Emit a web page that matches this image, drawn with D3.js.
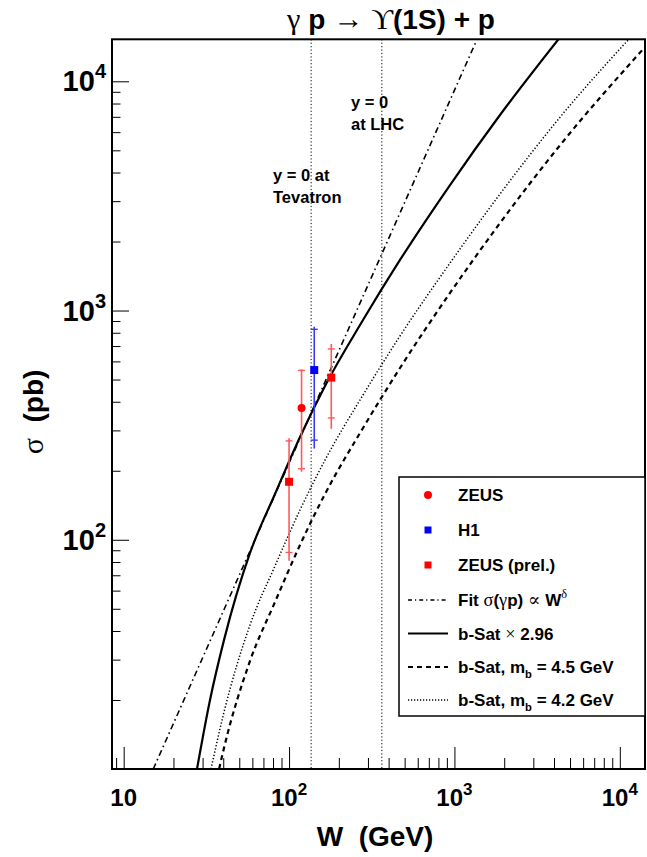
<!DOCTYPE html>
<html><head><meta charset="utf-8">
<script src="https://cdn.jsdelivr.net/npm/d3@7"></script>
<style>
html,body{margin:0;padding:0;background:#fff;}
svg{display:block;}
text{font-family:"Liberation Sans",Arial,Helvetica,sans-serif;font-weight:bold;fill:#000;white-space:pre;}
</style></head><body>
<svg id="chart" width="647" height="857"></svg>
<script>
// Photoproduction energy W (GeV) and cross sections sigma (pb)
const zeusW = [119];
const zeusSigma = [376];
const zeusTotErr = [178];
const zeusStatErr = [172];

const h1W = [142];
const h1Sigma = [550];
const h1TotErr = [300];
const h1StatErr = [278];

const zeusPrelW = [100, 180];
const zeusPrelSigma = [179, 510];
const zeusPrelTotErr = [98, 205];
const zeusPrelStatErr = [91, 170];

// Power-law fit, sigma ~ W^delta (end points on the frame)
const fitW = [15.1, 1370];
const fitSigma = [10, 15250];

// b-Sat dipole model predictions
const bsatScaledW = [27.76, 33.27, 40.42, 58.07, 82.23, 116.5, 165.0, 280.0, 468.6, 940.2, 1886, 4410];
const bsatScaledSigma = [10, 20.0, 36.5, 87.6, 158.4, 280.8, 468.7, 909, 1662, 3529, 7129, 15760];

const bsat45W = [37.76, 40.42, 58.07, 82.23, 116.5, 165.0, 280.0, 468.6, 940.2, 1886, 4410, 14200];
const bsat45Sigma = [10, 12.35, 29.6, 53.5, 94.9, 158.4, 307.3, 561.5, 1193, 2409, 5326, 14110];

const bsat42W = [33.73, 40.42, 58.07, 82.23, 116.5, 165.0, 280.0, 468.6, 940.2, 1886, 4410, 11370];
const bsat42Sigma = [10, 17.7, 42.5, 76.9, 134.9, 222.8, 428.1, 774.2, 1612, 3224, 7058, 15300];

// y = 0 positions: W = sqrt(M_Upsilon * sqrt(s))
const refLinesW = [136, 364];

// Axes
const xDomain = [8.5, 14200];
const yDomain = [10, 15250];
const xMajor = [10, 100, 1000, 10000];
const xMajorExp = ["", "2", "3", "4"];
const xMinor = [9, 20, 30, 40, 50, 60, 70, 80, 90, 200, 300, 400, 500, 600, 700, 800, 900,
                2000, 3000, 4000, 5000, 6000, 7000, 8000, 9000];
const yMajor = [100, 1000, 10000];
const yMajorExp = ["2", "3", "4"];
const yMinor = [20, 30, 40, 50, 60, 70, 80, 90, 200, 300, 400, 500, 600, 700, 800, 900,
                2000, 3000, 4000, 5000, 6000, 7000, 8000, 9000];

const titleText = "γ p → ϒ(1S) + p";
const xTitle = "W  (GeV)";
const yTitle = "σ  (pb)";
const legendLabels = ["ZEUS", "H1", "ZEUS (prel.)", "Fit σ(γp) ∝ W^δ", "b-Sat × 2.96",
                      "b-Sat, m_b = 4.5 GeV", "b-Sat, m_b = 4.2 GeV"];

const svg = d3.select("#chart");
const x = d3.scaleLog().domain(xDomain).range([112, 645]);
const y = d3.scaleLog().domain(yDomain).range([769, 39.3]);
const [X0, X1] = x.range();
const [Y0, Y1] = y.range();

// Rich text: Greek/math glyphs in a serif face, ^c superscript, _c subscript
const serifChars = "σγδ∝×→ϒ";
function rich(sel, str) {
  const runs = [];
  for (let i = 0; i < str.length; i++) {
    let ch = str[i], pos = "n";
    if ((ch === "^" || ch === "_") && i + 1 < str.length) {
      pos = ch === "^" ? "sup" : "sub";
      ch = str[++i];
    }
    const serif = serifChars.includes(ch);
    const last = runs[runs.length - 1];
    if (last && last.serif === serif && last.pos === pos) last.t += ch;
    else runs.push({ t: ch, serif, pos });
  }
  const fs = parseFloat(sel.attr("font-size"));
  let off = 0;
  runs.forEach(r => {
    const ts = sel.append("tspan").text(r.t);
    let target = 0;
    if (r.pos === "sup") { target = -0.45 * fs; ts.attr("font-size", fs * 0.66); }
    if (r.pos === "sub") { target = 0.3 * fs; ts.attr("font-size", fs * 0.66); }
    if (target !== off) { ts.attr("dy", target - off); off = target; }
    if (r.serif) ts.attr("font-family", "'Liberation Serif','DejaVu Serif',serif").attr("font-weight", "normal")
                   .attr("font-size", (r.pos === "n" ? fs * 1.08 : fs * 0.72));
  });
  return sel;
}

svg.append("defs").append("clipPath").attr("id", "plotClip").append("rect")
  .attr("x", X0).attr("y", Y1).attr("width", X1 - X0).attr("height", Y0 - Y1);

// Tick marks
const gx = svg.append("g").attr("transform", `translate(0,${Y0})`);
gx.call(d3.axisBottom(x).tickValues(xMajor).tickSize(-22).tickSizeOuter(0).tickFormat(""));
gx.append("g").call(d3.axisBottom(x).tickValues(xMinor).tickSize(-11).tickSizeOuter(0).tickFormat(""));
const gy = svg.append("g").attr("transform", `translate(${X0},0)`);
gy.call(d3.axisLeft(y).tickValues(yMajor).tickSize(-17).tickSizeOuter(0).tickFormat(""));
gy.append("g").call(d3.axisLeft(y).tickValues(yMinor).tickSize(-8.5).tickSizeOuter(0).tickFormat(""));
svg.selectAll(".domain").remove();
svg.selectAll(".tick line").attr("stroke", "#000").attr("stroke-width", 1);

// Tick labels
xMajor.forEach((v, i) => {
  const t = svg.append("text").attr("x", x(v)).attr("y", 806).attr("text-anchor", "middle").attr("font-size", 24);
  t.append("tspan").text("10");
  if (xMajorExp[i]) t.append("tspan").attr("dy", -11).attr("font-size", 17).text(xMajorExp[i]);
});
yMajor.forEach((v, i) => {
  const t = svg.append("text").attr("x", 106).attr("y", y(v) + 10).attr("text-anchor", "end").attr("font-size", 29);
  t.append("tspan").text("10");
  t.append("tspan").attr("dy", -13).attr("font-size", 20).text(yMajorExp[i]);
});

// Axis titles and plot title
rich(svg.append("text").attr("x", 375).attr("y", 846).attr("text-anchor", "middle").attr("font-size", 28), xTitle);
rich(svg.append("text").attr("transform", "translate(43,412) rotate(-90)").attr("text-anchor", "middle").attr("font-size", 28), yTitle);
rich(svg.append("text").attr("x", 391).attr("y", 29).attr("text-anchor", "middle").attr("font-size", 28), titleText);

const plot = svg.append("g").attr("clip-path", "url(#plotClip)");

// Reference lines at central rapidity
plot.selectAll("line.ref").data(refLinesW).join("line").attr("class", "ref")
  .attr("x1", d => x(d)).attr("x2", d => x(d)).attr("y1", Y1).attr("y2", Y0)
  .attr("stroke", "#000").attr("stroke-width", 1).attr("stroke-dasharray", "1.2,2.2");

const line = d3.line().x(d => x(d[0])).y(d => y(d[1])).curve(d3.curveMonotoneX);
const curves = [
  { w: fitW, s: fitSigma, dash: "6,3.5,1.5,3.5", width: 1.6 },
  { w: bsatScaledW, s: bsatScaledSigma, dash: null, width: 2.2 },
  { w: bsat45W, s: bsat45Sigma, dash: "5,4", width: 2.2 },
  { w: bsat42W, s: bsat42Sigma, dash: "1.3,2", width: 1.5 }
];
curves.forEach(c => {
  plot.append("path").datum(d3.zip(c.w, c.s)).attr("d", line)
    .attr("fill", "none").attr("stroke", "#000").attr("stroke-width", c.width)
    .attr("stroke-dasharray", c.dash);
});

// Data points with error bars (ticks at the statistical error)
function points(W, S, tot, stat, color, barColor, shape) {
  W.forEach((w, i) => {
    const cx = x(w);
    plot.append("line").attr("x1", cx).attr("x2", cx)
      .attr("y1", y(S[i] + tot[i])).attr("y2", y(S[i] - tot[i]))
      .attr("stroke", barColor).attr("stroke-width", 1.6);
    [S[i] + stat[i], S[i] - stat[i]].forEach(v => {
      plot.append("line").attr("x1", cx - 3.5).attr("x2", cx + 3.5).attr("y1", y(v)).attr("y2", y(v))
        .attr("stroke", barColor).attr("stroke-width", 1.4);
    });
    if (shape === "circle") plot.append("circle").attr("cx", cx).attr("cy", y(S[i])).attr("r", 4).attr("fill", color);
    else plot.append("rect").attr("x", cx - 4).attr("y", y(S[i]) - 4).attr("width", 8).attr("height", 8).attr("fill", color);
  });
}
points(zeusW, zeusSigma, zeusTotErr, zeusStatErr, "#ff0000", "#ff5a5a", "circle");
points(h1W, h1Sigma, h1TotErr, h1StatErr, "#0000ff", "#3a3aff", "square");
points(zeusPrelW, zeusPrelSigma, zeusPrelTotErr, zeusPrelStatErr, "#ff0000", "#ff5a5a", "square");

// Annotations
[["y = 0 at", 273, 181], ["Tevatron", 273, 203], ["y = 0", 351, 108], ["at LHC", 351, 130]].forEach(a => {
  svg.append("text").attr("x", a[1]).attr("y", a[2]).attr("font-size", 16.5).text(a[0]);
});

// Frame
svg.append("rect").attr("x", X0).attr("y", Y1).attr("width", X1 - X0).attr("height", Y0 - Y1)
  .attr("fill", "none").attr("stroke", "#000").attr("stroke-width", 2);

// Legend
const lg = svg.append("g");
lg.append("rect").attr("x", 399).attr("y", 477).attr("width", 246).attr("height", 239)
  .attr("fill", "#fff").attr("stroke", "#000").attr("stroke-width", 1.5);
const rowY = [495, 530, 565, 600, 633.5, 667, 700];
const legendKinds = [
  { marker: "circle", color: "#ff0000" }, { marker: "square", color: "#0000ff" }, { marker: "square", color: "#ff0000" },
  { dash: "4,3,1.2,3", width: 1.4 }, { dash: null, width: 2.2 }, { dash: "5,4", width: 2 }, { dash: "1.2,1.8", width: 1.4 }
];
legendKinds.forEach((k, i) => {
  const cy = rowY[i];
  if (k.marker === "circle") lg.append("circle").attr("cx", 428).attr("cy", cy).attr("r", 4).attr("fill", k.color);
  else if (k.marker === "square") lg.append("rect").attr("x", 424.5).attr("y", cy - 3.5).attr("width", 7).attr("height", 7).attr("fill", k.color);
  else lg.append("line").attr("x1", 408).attr("x2", 448).attr("y1", cy).attr("y2", cy)
        .attr("stroke", "#000").attr("stroke-width", k.width).attr("stroke-dasharray", k.dash);
  rich(lg.append("text").attr("x", 458).attr("y", cy + 6).attr("font-size", 17), legendLabels[i]);
});
</script>
</body></html>
